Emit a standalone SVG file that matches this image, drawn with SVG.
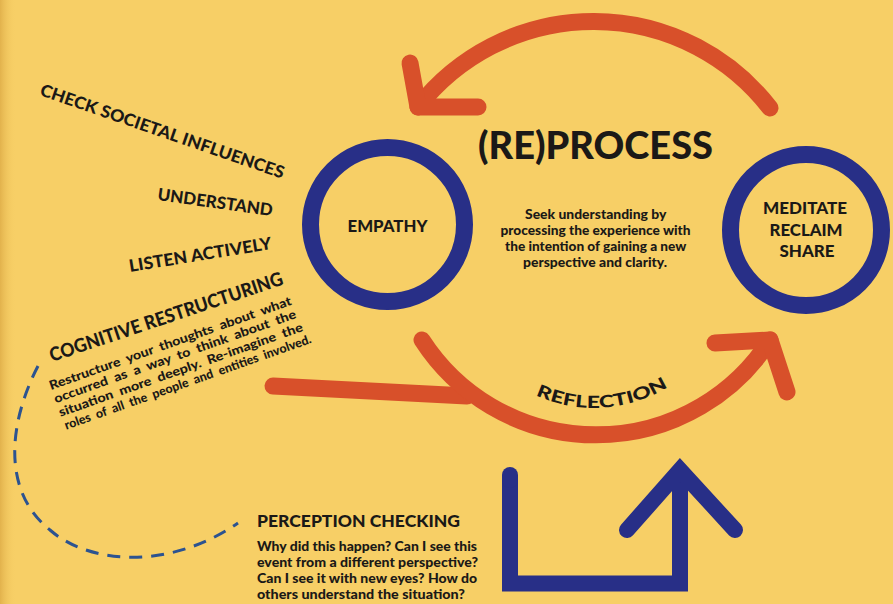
<svg xmlns="http://www.w3.org/2000/svg" width="893" height="604" viewBox="0 0 893 604">
  <defs>
    <style>
      .t { font-family: Lato, "Liberation Sans", "Noto Sans", sans-serif; font-weight: 900; fill: #1b1917; }
      .lbl { font-size: 17px; }
      .body { font-size: 12.5px; }
      .ring { fill: none; stroke: #282f87; stroke-width: 17; }
      .orange { fill: none; stroke: #d8502a; stroke-width: 17; stroke-linecap: round; stroke-linejoin: round; }
      .navy { fill: none; stroke: #282f87; stroke-width: 16; stroke-linejoin: miter; }
    </style>
    <linearGradient id="edge" x1="0" y1="0" x2="1" y2="0">
      <stop offset="0" stop-color="#e2b24c"/>
      <stop offset="1" stop-color="#f7cf66" stop-opacity="0"/>
    </linearGradient>
    <!-- baseline curve for the REFLECTION label -->
    <path id="reflectArc" d="M454,268 A140,140 0 0 0 734,268"/>
  </defs>

  <!-- background -->
  <rect width="893" height="604" fill="#f7cf66"/>
  <rect width="16" height="604" fill="url(#edge)"/>

  <!-- connectors -->
  <g id="connectors">
    <!-- return arrow over the top -->
    <path class="orange" d="M770,108 A223,223 0 0 0 418,107"/>
    <path class="orange" d="M410,63 L418,107 L478,107"/>
    <!-- reflection arrow underneath -->
    <path class="orange" d="M273,386 L467,396"/>
    <path class="orange" d="M422,340 A207,207 0 0 0 770,340"/>
    <path class="orange" d="M715,343 L770,340 L787,392"/>
    <!-- blue turn arrow -->
    <path class="navy" d="M510,475 L510,583.5 L680,583.5 L680,470" stroke-linecap="butt"/>
    <path class="navy" d="M510,475 L510,480" stroke-linecap="round"/>
    <path class="navy" d="M627,530 L680,470 L735,530" stroke-linecap="round" stroke-linejoin="round"/>
    <!-- dashed link to perception checking -->
    <path d="M38,366 C10,420 0,490 50,530 C90,565 170,570 238,523" fill="none" stroke="#2c5390" stroke-width="3" stroke-dasharray="13 9"/>
  </g>

  <!-- empathy node -->
  <g id="empathy">
    <circle class="ring" cx="387.5" cy="224.5" r="77"/>
    <text class="t" x="387.5" y="232" font-size="16.5" text-anchor="middle" textLength="80" lengthAdjust="spacingAndGlyphs">EMPATHY</text>
  </g>

  <!-- meditate / reclaim / share node -->
  <g id="meditate">
    <circle class="ring" cx="806" cy="230" r="75.5"/>
    <text class="t" font-size="16.5" text-anchor="middle">
      <tspan x="807" y="214" textLength="84" lengthAdjust="spacingAndGlyphs">MEDITATE</tspan>
      <tspan x="808" y="236" textLength="73" lengthAdjust="spacingAndGlyphs">RECLAIM</tspan>
      <tspan x="807" y="257" textLength="55" lengthAdjust="spacingAndGlyphs">SHARE</tspan>
    </text>
  </g>

  <!-- central (re)process block -->
  <g id="reprocess">
    <text class="t" x="478" y="159" font-size="38" textLength="235" lengthAdjust="spacingAndGlyphs">(RE)PROCESS</text>
    <text class="t body" text-anchor="middle">
      <tspan x="597" y="219" textLength="141" lengthAdjust="spacingAndGlyphs">Seek understanding by</tspan>
      <tspan x="597" y="235" textLength="190" lengthAdjust="spacingAndGlyphs">processing the experience with</tspan>
      <tspan x="597" y="251" textLength="181" lengthAdjust="spacingAndGlyphs">the intention of gaining a new</tspan>
      <tspan x="595" y="267" textLength="144" lengthAdjust="spacingAndGlyphs">perspective and clarity.</tspan>
    </text>
  </g>

  <!-- reflection label -->
  <g id="reflection">
    <text class="t" font-size="17">
      <textPath href="#reflectArc" startOffset="52%" text-anchor="middle" textLength="138" lengthAdjust="spacingAndGlyphs">REFLECTION</textPath>
    </text>
  </g>

  <!-- empathy practices -->
  <g id="practices">
    <text class="t lbl" transform="translate(39,95) rotate(19)" textLength="257" lengthAdjust="spacingAndGlyphs">CHECK SOCIETAL INFLUENCES</text>
    <text class="t lbl" transform="translate(157,200) rotate(8)" textLength="116" lengthAdjust="spacingAndGlyphs">UNDERSTAND</text>
    <text class="t lbl" transform="translate(130,272) rotate(-9.2)" textLength="144" lengthAdjust="spacingAndGlyphs">LISTEN ACTIVELY</text>
  </g>

  <!-- cognitive restructuring -->
  <g id="cognitive">
    <text class="t" font-size="19" transform="translate(52,362) rotate(-18.5)" textLength="245" lengthAdjust="spacingAndGlyphs">COGNITIVE RESTRUCTURING</text>
    <g transform="translate(51,390) rotate(-19.5)">
      <text class="t body" font-size="13" word-spacing="3">
        <tspan x="0" y="0" textLength="256" lengthAdjust="spacingAndGlyphs">Restructure your thoughts about what</tspan>
        <tspan x="0" y="14" textLength="256" lengthAdjust="spacingAndGlyphs">occurred as a way to think about the</tspan>
        <tspan x="0" y="28.5" textLength="258" lengthAdjust="spacingAndGlyphs">situation more deeply. Re-imagine the</tspan>
        <tspan x="1" y="42.5" textLength="261" lengthAdjust="spacingAndGlyphs">roles of all the people and entities involved.</tspan>
      </text>
    </g>
  </g>

  <!-- perception checking -->
  <g id="perception">
    <text class="t" x="257" y="527" font-size="17" textLength="203" lengthAdjust="spacingAndGlyphs">PERCEPTION CHECKING</text>
    <text class="t" font-size="13">
      <tspan x="257" y="551" textLength="220" lengthAdjust="spacingAndGlyphs">Why did this happen? Can I see this</tspan>
      <tspan x="257" y="567" textLength="221" lengthAdjust="spacingAndGlyphs">event from a different perspective?</tspan>
      <tspan x="257" y="583" textLength="220" lengthAdjust="spacingAndGlyphs">Can I see it with new eyes? How do</tspan>
      <tspan x="257" y="599" textLength="208" lengthAdjust="spacingAndGlyphs">others understand the situation?</tspan>
    </text>
  </g>
</svg>
